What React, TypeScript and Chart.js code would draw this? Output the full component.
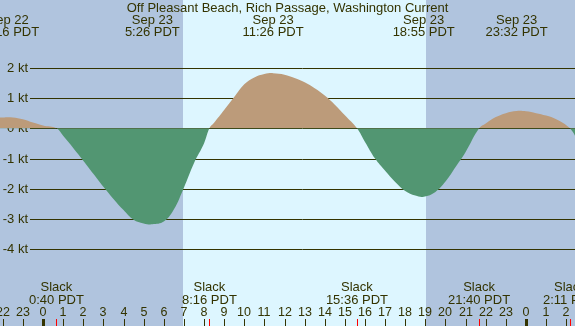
import React, { useEffect, useRef } from "react";
import { Chart, registerables } from "chart.js";

Chart.register(...registerables);

// Hours relative to Sep 23 00:00 PDT
const hours = [-2.5, -2, -1.5, -1, -0.5, 0, 0.67, 1, 1.5, 2, 2.5, 3, 3.5, 4, 4.5, 5, 5.43, 6, 6.5, 7, 7.5, 8, 8.27, 8.5, 9, 9.5, 10, 10.5, 11, 11.43, 12, 12.5, 13, 13.5, 14, 14.5, 15, 15.6, 16, 16.5, 17, 17.5, 18, 18.5, 18.92, 19.5, 20, 20.5, 21, 21.67, 22, 22.5, 23, 23.53, 24, 24.5, 25, 25.5, 26.18, 26.6];
const speeds = [0.33, 0.36, 0.36, 0.3, 0.19, 0.09, 0, -0.25, -0.65, -1.07, -1.5, -1.93, -2.33, -2.7, -3.02, -3.14, -3.17, -3.08, -2.68, -1.96, -1.15, -0.5, 0, 0.18, 0.6, 1.03, 1.45, 1.68, 1.79, 1.82, 1.77, 1.66, 1.52, 1.32, 1.08, 0.78, 0.43, 0, -0.45, -1.0, -1.4, -1.77, -2.07, -2.22, -2.26, -2.1, -1.76, -1.28, -0.78, 0, 0.16, 0.37, 0.5, 0.57, 0.56, 0.5, 0.42, 0.3, 0, -0.45];

const peakHours = [-1.733, 5.433, 11.433, 18.917, 23.533];
const peakDates = ["Sep 22", "Sep 23", "Sep 23", "Sep 23", "Sep 23"];
const peakTimes = ["22:16 PDT", "5:26 PDT", "11:26 PDT", "18:55 PDT", "23:32 PDT"];

const slackHours = [0.667, 8.267, 15.6, 21.667, 26.183];
const slackTimes = ["0:40 PDT", "8:16 PDT", "15:36 PDT", "21:40 PDT", "2:11 PDT"];

const sunrise = 6.96;
const sunset = 19.03;

const yTicks = [2, 1, 0, -1, -2, -3, -4];
const hourTicks = [-2, -1, 0, 1, 2, 3, 4, 5, 6, 7, 8, 9, 10, 11, 12, 13, 14, 15, 16, 17, 18, 19, 20, 21, 22, 23, 24, 25, 26];

const title = "Off Pleasant Beach, Rich Passage, Washington Current";

const NIGHT = "#b0c4de";
const DAY = "#ddf6ff";
const FLOOD = "#bc9b7a";
const EBB = "#529672";
const INK = "#333300";
const FONT = '"Liberation Sans", Arial, sans-serif';

export default function App() {
  const ref = useRef<HTMLCanvasElement | null>(null);

  useEffect(() => {
    document.body.style.margin = "0";
    const canvas = ref.current!;
    const bgPlugin = {
      id: "bg",
      beforeDatasetsDraw(chart: any) {
        const { ctx, scales, width, height } = chart;
        const xs = scales.x;
        const ys = scales.y;
        ctx.save();
        ctx.fillStyle = NIGHT;
        ctx.fillRect(0, 0, width, height);
        const x1 = Math.round(xs.getPixelForValue(sunrise));
        const x2 = Math.round(xs.getPixelForValue(sunset));
        ctx.fillStyle = DAY;
        ctx.fillRect(x1, 0, x2 - x1, height);
        ctx.strokeStyle = INK;
        ctx.lineWidth = 1;
        ctx.font = `13px ${FONT}`;
        ctx.fillStyle = INK;
        ctx.textAlign = "right";
        ctx.textBaseline = "middle";
        yTicks.forEach((v) => {
          const y = Math.round(ys.getPixelForValue(v)) + 0.5;
          ctx.beginPath();
          ctx.moveTo(30, y);
          ctx.lineTo(width, y);
          ctx.stroke();
          ctx.fillText(`${v} kt`, 28, y);
        });
        ctx.restore();
      },
      afterDatasetsDraw(chart: any) {
        const { ctx, scales, width, height } = chart;
        const xs = scales.x;
        ctx.save();
        ctx.fillStyle = INK;
        ctx.textAlign = "center";
        ctx.textBaseline = "alphabetic";
        ctx.font = `13px ${FONT}`;
        ctx.fillText(title, width / 2, 12);
        peakHours.forEach((h, i) => {
          const x = xs.getPixelForValue(h);
          ctx.fillText(peakDates[i], x, 24);
          ctx.fillText(peakTimes[i], x, 36);
        });
        slackHours.forEach((h, i) => {
          const x = xs.getPixelForValue(h);
          ctx.fillText("Slack", x, 291);
          ctx.fillText(slackTimes[i], x, 304);
        });
        ctx.font = `12.5px ${FONT}`;
        hourTicks.forEach((h) => {
          const x = Math.round(xs.getPixelForValue(h));
          const label = String(((h % 24) + 24) % 24);
          ctx.fillText(label, x, 316);
          if (h % 24 === 0) {
            ctx.fillRect(x - 1, 319, 3, height - 319);
          } else {
            ctx.fillRect(x, 319, 1, height - 319);
          }
        });
        ctx.fillStyle = "#ff0000";
        slackHours.forEach((h) => {
          const x = Math.round(xs.getPixelForValue(h));
          ctx.fillRect(x, 319, 1, height - 319);
        });
        ctx.restore();
      },
    };

    const chart = new Chart(canvas, {
      type: "line",
      data: {
        datasets: [
          {
            data: hours.map((h, i) => ({ x: h, y: speeds[i] })),
            borderWidth: 0,
            borderColor: "rgba(0,0,0,0)",
            pointRadius: 0,
            tension: 0.4,
            fill: { target: { value: 0 }, above: FLOOD, below: EBB },
          } as any,
        ],
      },
      options: {
        animation: false,
        responsive: false,
        maintainAspectRatio: false,
        layout: { padding: 0 },
        events: [],
        plugins: { legend: { display: false }, tooltip: { enabled: false } },
        scales: {
          x: { type: "linear", min: -2.137, max: 26.435, display: false },
          y: { type: "linear", min: -6.525, max: 4.234, display: false },
        },
      },
      plugins: [bgPlugin],
    });
    return () => chart.destroy();
  }, []);

  return <canvas ref={ref} width={575} height={326} style={{ display: "block" }} />;
}
